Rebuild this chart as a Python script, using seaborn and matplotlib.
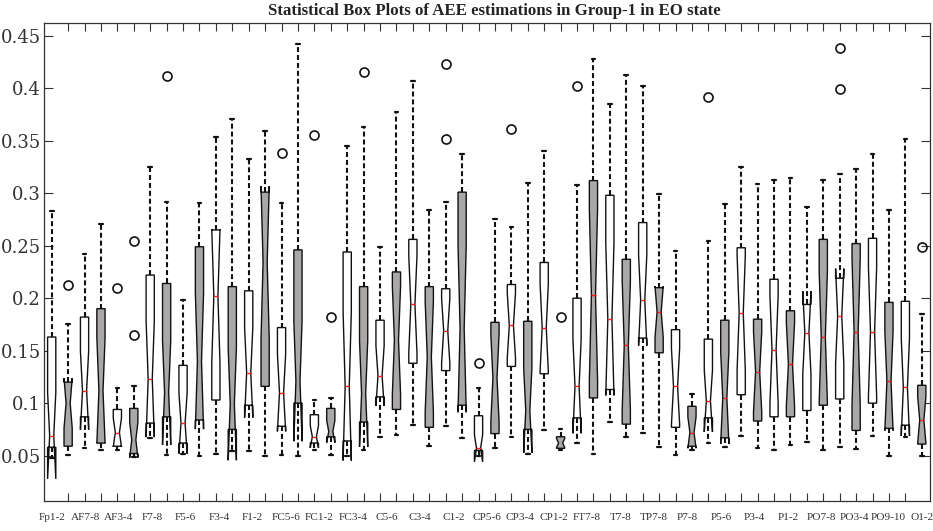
import numpy as np
import matplotlib
matplotlib.use("Agg")
import matplotlib.pyplot as plt
import seaborn as sns

# Electrode-pair labels (one per pair of boxes)
channels = ["Fp1-2", "AF7-8", "AF3-4", "F7-8", "F5-6", "F3-4", "F1-2", "FC5-6",
            "FC1-2", "FC3-4", "C5-6", "C3-4", "C1-2", "CP5-6", "CP3-4", "CP1-2",
            "FT7-8", "T7-8", "TP7-8", "P7-8", "P5-6", "P3-4", "P1-2", "PO7-8",
            "PO3-4", "PO9-10", "O1-2"]

# Box statistics, 54 boxes (two per electrode pair)
upper_whisker = [0.283, 0.175, 0.242, 0.271, 0.114, 0.116, 0.325, 0.292, 0.198,
                 0.291, 0.354, 0.371, 0.333, 0.359, 0.291, 0.442, 0.103, 0.105,
                 0.345, 0.363, 0.249, 0.377, 0.407, 0.284, 0.292, 0.337, 0.114,
                 0.275, 0.268, 0.310, 0.340, 0.075, 0.308, 0.428, 0.385, 0.413,
                 0.402, 0.299, 0.245, 0.109, 0.254, 0.290, 0.325, 0.309, 0.313,
                 0.314, 0.287, 0.313, 0.318, 0.323, 0.337, 0.284, 0.352, 0.185]
upper_quartile = [0.163, 0.120, 0.182, 0.190, 0.094, 0.095, 0.222, 0.214, 0.136,
                  0.249, 0.265, 0.211, 0.207, 0.301, 0.172, 0.246, 0.089, 0.095,
                  0.244, 0.211, 0.179, 0.225, 0.256, 0.211, 0.209, 0.301, 0.088,
                  0.177, 0.213, 0.178, 0.234, 0.068, 0.200, 0.312, 0.298, 0.237,
                  0.272, 0.210, 0.170, 0.097, 0.161, 0.179, 0.248, 0.180, 0.218,
                  0.188, 0.194, 0.256, 0.219, 0.252, 0.257, 0.196, 0.197, 0.117]
median = [0.069, 0.100, 0.112, 0.112, 0.072, 0.065, 0.123, 0.110, 0.081,
          0.140, 0.202, 0.099, 0.129, 0.234, 0.110, 0.121, 0.068, 0.073,
          0.116, 0.109, 0.126, 0.160, 0.194, 0.144, 0.169, 0.171, 0.057,
          0.124, 0.174, 0.093, 0.172, 0.062, 0.116, 0.203, 0.180, 0.155,
          0.198, 0.187, 0.116, 0.072, 0.102, 0.105, 0.186, 0.130, 0.151,
          0.137, 0.167, 0.163, 0.183, 0.168, 0.168, 0.121, 0.115, 0.084]
lower_quartile = [0.058, 0.059, 0.087, 0.062, 0.059, 0.052, 0.081, 0.087, 0.062,
                  0.084, 0.103, 0.075, 0.098, 0.116, 0.078, 0.100, 0.062, 0.068,
                  0.064, 0.082, 0.106, 0.094, 0.138, 0.077, 0.131, 0.098, 0.055,
                  0.071, 0.135, 0.075, 0.128, 0.057, 0.086, 0.105, 0.113, 0.080,
                  0.162, 0.148, 0.077, 0.059, 0.086, 0.067, 0.108, 0.083, 0.087,
                  0.087, 0.093, 0.098, 0.104, 0.074, 0.100, 0.076, 0.079, 0.061]
lower_whisker = [0.048, 0.051, 0.057, 0.055, 0.055, 0.049, 0.067, 0.051, 0.052,
                 0.050, 0.052, 0.054, 0.054, 0.050, 0.051, 0.050, 0.055, 0.051,
                 0.050, 0.055, 0.068, 0.070, 0.079, 0.059, 0.078, 0.067, 0.050,
                 0.057, 0.068, 0.052, 0.074, 0.055, 0.062, 0.052, 0.082, 0.068,
                 0.072, 0.058, 0.051, 0.055, 0.062, 0.058, 0.069, 0.057, 0.055,
                 0.060, 0.063, 0.055, 0.058, 0.056, 0.069, 0.050, 0.068, 0.050]
outliers = [[], [0.213], [], [], [0.210], [0.254, 0.165], [], [0.412], [],
            [], [], [], [], [], [0.338], [], [0.355], [0.182],
            [], [0.415], [], [], [], [], [0.423, 0.352], [], [0.138],
            [], [0.361], [], [], [0.182], [0.402], [], [], [],
            [], [], [], [], [0.392], [], [], [], [],
            [], [], [], [0.438, 0.399], [], [], [], [], [0.249]]
n_subjects = 16

title = "Statistical Box Plots of AEE estimations in Group-1 in EO state"

sns.set_style("white")
plt.rcParams["font.family"] = ["Liberation Serif", "DejaVu Serif"]

fig = plt.figure(figsize=(9.33, 5.31), dpi=100)
ax = fig.add_axes([43.5 / 933, 30 / 531, 886.5 / 933, 478.3 / 531])

positions = np.arange(1, len(median) + 1)
stats = []
for i in range(len(median)):
    iqr = upper_quartile[i] - lower_quartile[i]
    half_notch = 1.57 * iqr / np.sqrt(n_subjects)
    stats.append(dict(
        med=median[i], q1=lower_quartile[i], q3=upper_quartile[i],
        whislo=lower_whisker[i], whishi=upper_whisker[i],
        cilo=median[i] - half_notch, cihi=median[i] + half_notch,
        fliers=np.array(outliers[i]),
    ))

art = ax.bxp(
    stats, positions=positions, widths=0.5, capwidths=0.22,
    shownotches=True, patch_artist=True, manage_ticks=False,
    boxprops=dict(edgecolor="#111111", linewidth=1.0),
    whiskerprops=dict(color="#111111", linewidth=1.5, linestyle=(0, (2.4, 1.4))),
    capprops=dict(color="#111111", linewidth=1.6),
    medianprops=dict(color="#ff1a1a", linewidth=1.0),
    flierprops=dict(marker="o", markersize=6.5, markerfacecolor="none",
                    markeredgecolor="#111111", markeredgewidth=1.2),
)

# alternate white / gray boxes
for k, patch in enumerate(art["boxes"]):
    patch.set_facecolor("white" if k % 2 == 0 else "#aaa7a7")
# medians of the first gray boxes sit under the fill
for k, line in enumerate(art["medians"]):
    if k % 2 == 1 and k < 33:
        line.set_visible(False)

ax.set_xlim(0.5, len(median) + 0.5)
ax.set_ylim(0.0068, 0.4624)

ax.set_xticks(positions, minor=True)
ax.set_xticks(np.linspace(1, len(median), len(channels)))
ax.set_xticklabels(channels, fontsize=8.1, color="#333333")
ax.tick_params(axis="x", which="major", length=0, pad=8.5)
ax.tick_params(axis="x", which="minor", direction="in", length=6, width=0.8,
               bottom=True, top=True, color="#333333")

yt = np.round(np.arange(0.05, 0.451, 0.05), 2)
ax.set_yticks(yt)
ax.set_yticklabels([f"{v:g}" for v in yt], fontsize=13, color="#333333",
                   family="DejaVu Serif")
ax.tick_params(axis="y", direction="in", length=6.5, width=0.8, left=True,
               right=True, pad=2, color="#333333")

for sp in ax.spines.values():
    sp.set_color("#333333")
    sp.set_linewidth(0.9)

fig.text(494.5 / 933, 1 - 11 / 531, title, ha="center", va="center",
         fontsize=12.1, fontweight="bold", color="#222222")

fig.savefig("out.png", dpi=100)
